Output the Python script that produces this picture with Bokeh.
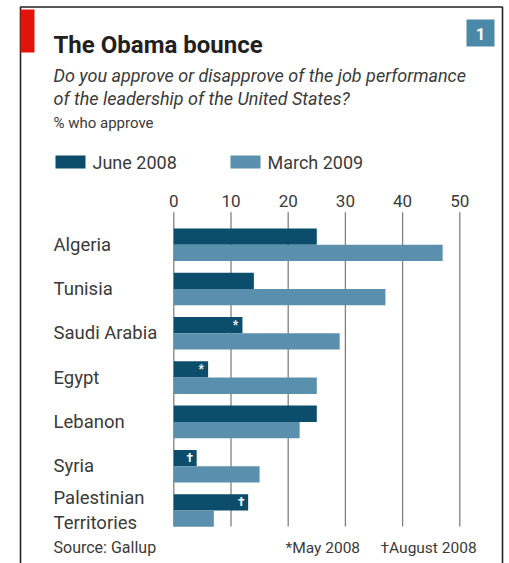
from bokeh.plotting import figure
from bokeh.models import Range1d
from bokeh.core.properties import value
from bokeh.embed import file_html
from bokeh.resources import INLINE

# ---- data ----
countries = ["Algeria", "Tunisia", "Saudi Arabia", "Egypt", "Lebanon", "Syria",
             "Palestinian\nTerritories"]
june_2008 = [25, 14, 12, 6, 25, 4, 13]
march_2009 = [47, 37, 29, 25, 22, 15, 7]
june_marks = ["", "", "*", "*", "", "\u2020", "\u2020"]
series_names = ["June 2008", "March 2009"]
ticks = [0, 10, 20, 30, 40, 50]
tick_labels = ["0", "10", "20", "30", "40", "50"]
title = "The Obama bounce"
subtitle = ["Do you approve or disapprove of the job performance",
            "of the leadership of the United States?"]
unit_note = "% who approve"
source = "Source: Gallup"
notes = ["*May 2008", "\u2020August 2008"]

# ---- layout ----
W, H = 509, 563
X0 = 173.3      # canvas px of value 0
K = 5.72        # px per percentage point
FIRST = 244.2   # canvas y (from top) of first group centre
STEP = 44.3
BAR_H = 16.3

DARK = "#0b4d6b"
LIGHT = "#5b8fae"
TXT = "#3a3a3a"
FONT = value("Roboto")


def fx(px):  # canvas px -> data x
    return (px - X0) / K


def fy(py):  # canvas px -> data y (px from top of canvas)
    return py


p = figure(width=W, height=H, output_backend="svg", toolbar_location=None,
           x_axis_type=None, y_axis_type=None, title=None, min_border=0,
           x_range=Range1d(-X0 / K, (W - X0) / K), y_range=Range1d(H, 0),
           background_fill_color="white", border_fill_color="white")
p.outline_line_color = None
p.grid.visible = False

# frame border and red tag
p.quad(left=fx(20), right=fx(502), top=fy(6.5), bottom=fy(640),
       fill_alpha=0, line_color="#222222", line_width=1.6)
p.quad(left=fx(20), right=fx(34), top=fy(9), bottom=fy(52),
       fill_color="#e3120b", line_color=None)
# badge
p.quad(left=fx(466), right=fx(494), top=fy(19), bottom=fy(46),
       fill_color="#4a89a8", line_color=None)
p.text(x=[fx(480)], y=[fy(33)], text=["1"], text_font=FONT, text_font_style="bold",
       text_font_size="16px", text_color="white", text_align="center",
       text_baseline="middle")

# titles
p.text(x=[fx(53)], y=[fy(44)], text=[title], text_font=FONT, text_font_style="bold",
       text_font_size="24px", text_color="#231f20", text_baseline="middle")
p.text(x=[fx(53)] * 2, y=[fy(75), fy(98)], text=subtitle, text_font=FONT,
       text_font_style="italic", text_font_size="18px", text_color=TXT,
       text_baseline="middle")
p.text(x=[fx(53)], y=[fy(122)], text=[unit_note], text_font=FONT,
       text_font_size="15px", text_color=TXT, text_baseline="middle")

# legend
p.quad(left=[fx(55), fx(230)], right=[fx(85), fx(260)], top=[fy(155)] * 2,
       bottom=[fy(168)] * 2, fill_color=[DARK, LIGHT], line_color=None)
p.text(x=[fx(92), fx(267)], y=[fy(161.5)] * 2, text=series_names, text_font=FONT,
       text_font_size="18px", text_color=TXT, text_baseline="middle")

# gridlines and tick labels
p.segment(x0=ticks, x1=ticks, y0=[fy(211.7)] * len(ticks), y1=[fy(526)] * len(ticks),
          line_color="#808080", line_width=1.3)
p.text(x=ticks, y=[fy(200)] * len(ticks), text=tick_labels, text_font=FONT,
       text_font_size="17px", text_color=TXT, text_align="center",
       text_baseline="middle")

# bars
centers = [FIRST + i * STEP for i in range(len(countries))]
june_y = [c - BAR_H / 2 for c in centers]
march_y = [c + BAR_H / 2 for c in centers]
p.hbar(y=june_y, left=0, right=june_2008, height=BAR_H, fill_color=DARK,
       line_color=None)
p.hbar(y=march_y, left=0, right=march_2009, height=BAR_H, fill_color=LIGHT,
       line_color=None)
p.text(x=june_2008, y=june_y, text=june_marks, x_offset=-7, text_font=FONT,
       text_font_style="bold", text_font_size="12px", text_color="white",
       text_align="center", text_baseline="middle")

# category labels
p.text(x=[fx(53)] * len(countries), y=centers, text=countries, text_font=FONT,
       text_font_size="18.5px", text_color=TXT, text_baseline="middle",
       text_line_height=1.15)

# footer
p.text(x=[fx(53)], y=[fy(547)], text=[source], text_font=FONT, text_font_size="16px",
       text_color=TXT, text_baseline="middle")
p.text(x=[fx(285), fx(380)], y=[fy(547)] * 2, text=notes, text_font=FONT,
       text_font_size="15.5px", text_color=TXT, text_baseline="middle")

open("out.html", "w").write(file_html(p, INLINE))
